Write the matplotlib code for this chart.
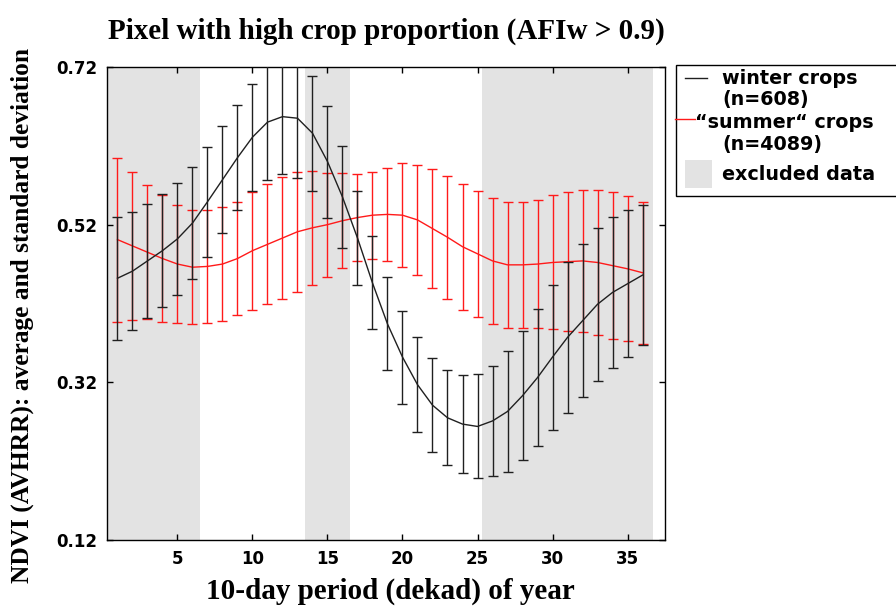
import numpy as np
import matplotlib.pyplot as plt
from matplotlib.patches import Rectangle
from matplotlib.lines import Line2D

# NDVI profiles per dekad (mean and standard deviation)
dekad = np.arange(1, 37)
winter_mean = [0.452, 0.461, 0.474, 0.487, 0.502, 0.522, 0.549, 0.577, 0.605, 0.631,
               0.650, 0.657, 0.655, 0.636, 0.600, 0.555, 0.503, 0.446, 0.394, 0.352,
               0.317, 0.291, 0.275, 0.267, 0.264, 0.271, 0.283, 0.303, 0.326, 0.352,
               0.377, 0.398, 0.419, 0.434, 0.445, 0.456]
winter_sd = [0.078, 0.075, 0.072, 0.072, 0.071, 0.071, 0.070, 0.068, 0.067, 0.068,
             0.073, 0.073, 0.076, 0.073, 0.071, 0.065, 0.060, 0.059, 0.059, 0.059,
             0.060, 0.060, 0.060, 0.062, 0.066, 0.070, 0.077, 0.082, 0.087, 0.092,
             0.096, 0.097, 0.097, 0.096, 0.093, 0.089]
summer_mean = [0.501, 0.493, 0.485, 0.477, 0.470, 0.466, 0.467, 0.470, 0.477, 0.487,
               0.495, 0.503, 0.511, 0.516, 0.520, 0.525, 0.529, 0.532, 0.533, 0.532,
               0.526, 0.515, 0.504, 0.492, 0.483, 0.474, 0.469, 0.469, 0.470, 0.472,
               0.473, 0.474, 0.472, 0.468, 0.464, 0.459]
summer_sd = [0.104, 0.094, 0.085, 0.080, 0.075, 0.072, 0.072, 0.072, 0.072, 0.075,
             0.076, 0.077, 0.076, 0.072, 0.066, 0.060, 0.055, 0.055, 0.059, 0.066,
             0.070, 0.075, 0.078, 0.080, 0.080, 0.080, 0.080, 0.080, 0.081, 0.085,
             0.088, 0.090, 0.092, 0.093, 0.092, 0.090]
excluded = [(0.3, 6.5), (13.5, 16.5), (25.3, 36.7)]

xticks = [5, 10, 15, 20, 25, 30, 35]
yticks = [0.12, 0.32, 0.52, 0.72]

serif = 'Liberation Serif'
sans = 'DejaVu Sans'
grey = '#e3e3e3'
red = '#ff1a1a'
black = '#202020'

W, H = 896, 610
fig = plt.figure(figsize=(W / 100, H / 100), dpi=100)
ax = fig.add_axes([0.1194, 0.1148, 0.6228, 0.7754])

for x0, x1 in excluded:
    ax.axvspan(x0, x1, color=grey, lw=0, zorder=0)

ax.errorbar(dekad, summer_mean, yerr=summer_sd, color=red, ecolor=red,
            elinewidth=1.0, capsize=3.6, capthick=1.0, lw=1.0, zorder=2)
ax.errorbar(dekad, winter_mean, yerr=winter_sd, color=black, ecolor=black,
            elinewidth=1.0, capsize=3.6, capthick=1.0, lw=1.0, zorder=3)

ax.set_xlim(0.3, 37.5)
ax.set_ylim(0.12, 0.72)
ax.set_xticks(xticks)
ax.set_yticks(yticks)
ax.set_yticklabels(['%.2f' % v for v in yticks])
ax.tick_params(direction='in', length=4, width=1, top=True, right=True,
               labelsize=12, pad=7)
for lab in ax.get_xticklabels() + ax.get_yticklabels():
    lab.set_fontfamily(sans)
    lab.set_fontweight('bold')
for sp in ax.spines.values():
    sp.set_linewidth(1.0)

fig.text(0.431, 0.948, 'Pixel with high crop proportion (AFIw > 0.9)', ha='center',
         va='center', fontfamily=serif, fontweight='bold', fontsize=21)
fig.text(0.436, 0.030, '10-day period (dekad) of year', ha='center', va='center',
         fontfamily=serif, fontweight='bold', fontsize=21)
fig.text(0.025, 0.482, 'NDVI (AVHRR): average and standard deviation', rotation=90,
         ha='center', va='center', fontfamily=serif, fontweight='bold', fontsize=18.3)


# legend box drawn by hand (pixel positions, origin at top-left)
def fx(px):
    return px / W


def fy(py):
    return 1 - py / H


tf = fig.transFigure
fig.add_artist(Rectangle((fx(676), fy(196)), fx(240), fy(65) - fy(196), transform=tf,
                         facecolor='white', edgecolor='black', lw=1.0))
fig.add_artist(Line2D([fx(685), fx(707)], [fy(78), fy(78)], color=black, lw=1.0,
                      transform=tf))
fig.add_artist(Line2D([fx(675), fx(695)], [fy(119), fy(119)], color=red, lw=1.0,
                      transform=tf))
fig.add_artist(Rectangle((fx(685), fy(188)), fx(27), fy(160) - fy(188), transform=tf,
                         facecolor=grey, edgecolor='none'))

leg_font = dict(family=sans, weight='bold', size=13.8, va='center', ha='left')
fig.text(fx(722), fy(78), 'winter crops', **leg_font)
fig.text(fx(722), fy(99), '(n=608)', **leg_font)
fig.text(fx(695), fy(122), '\u201csummer\u201c crops', **leg_font)
fig.text(fx(722), fy(145), '(n=4089)', **leg_font)
fig.text(fx(722), fy(174), 'excluded data', **leg_font)

fig.savefig('out.png', dpi=100)
